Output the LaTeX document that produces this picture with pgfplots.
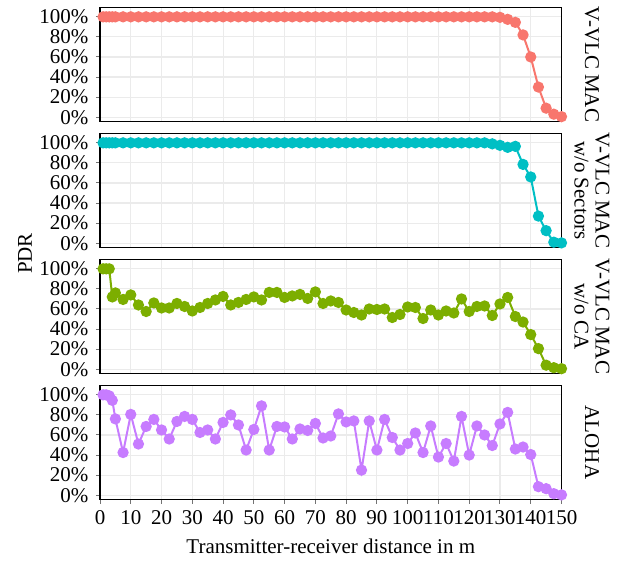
\documentclass[border=0pt]{standalone}
\usepackage{fontspec}
\setmainfont{Liberation Serif}
\usepackage{pgfplots}
\pgfplotsset{compat=1.18}

\definecolor{cRed}{HTML}{F8766D}
\definecolor{cGreen}{HTML}{7CAE00}
\definecolor{cCyan}{HTML}{00BFC4}
\definecolor{cPurple}{HTML}{C77CFF}

\newcommand{\bigf}{\fontsize{21}{21}\selectfont}

\pgfplotsset{
  panel/.style={
    width=461.5pt, height=114pt, scale only axis,
    xmin=0, xmax=150, ymin=-4.3, ymax=109.3,
    xtick={0,10,...,150}, ytick={0,20,...,100},
    yticklabels={0\%,20\%,40\%,60\%,80\%,100\%},
    /pgf/number format/assume math mode=true,
    grid=major, major grid style={draw=black!8, line width=1.1pt},
    axis line style={black, line width=1.1pt},
    tick align=outside, major tick length=4pt,
    tick style={black!55, line width=1pt},
    tick pos=left,
    tick label style={font=\bigf, black},
    yticklabel style={xshift=-4pt},
    xticklabel style={yshift=-3pt},
    anchor=north west,
  },
  upper/.style={xticklabels={}, xtick style={draw=none}},
  ser/.style={color=#1, line width=2pt, mark=*, mark size=4.6pt,
    mark options={solid, fill=#1, draw=#1}},
}

\begin{document}
\begin{tikzpicture}
\useasboundingbox (0,0) rectangle (624pt,-560pt);

% V-VLC MAC
\begin{axis}[panel, upper, at={(100pt,-7.5pt)}]
\addplot[ser=cRed] coordinates {
(1,100) (2,100) (3,100) (4,100) (5,100) (7.5,100) (10,100) (12.5,100) (15,100) (17.5,100)
(20,100) (22.5,100) (25,100) (27.5,100) (30,100) (32.5,100) (35,100) (37.5,100) (40,100)
(42.5,100) (45,100) (47.5,100) (50,100) (52.5,100) (55,100) (57.5,100) (60,100) (62.5,100)
(65,100) (67.5,100) (70,100) (72.5,100) (75,100) (77.5,100) (80,100) (82.5,100) (85,100)
(87.5,100) (90,100) (92.5,100) (95,100) (97.5,100) (100,100) (102.5,100) (105,100) (107.5,100)
(110,100) (112.5,100) (115,100) (117.5,100) (120,100) (122.5,100) (125,100) (127.5,100)
(130,99.5) (132.5,97.5) (135,94.5) (137.5,82) (140,60) (142.5,30) (145,9) (147.5,3) (150,0.5)
};
\end{axis}

% V-VLC MAC w/o Sectors
\begin{axis}[panel, upper, at={(100pt,-133.5pt)}]
\addplot[ser=cCyan] coordinates {
(1,100) (2,100) (3,100) (4,100) (5,100) (7.5,100) (10,100) (12.5,100) (15,100) (17.5,100)
(20,100) (22.5,100) (25,100) (27.5,100) (30,100) (32.5,100) (35,100) (37.5,100) (40,100)
(42.5,100) (45,100) (47.5,100) (50,100) (52.5,100) (55,100) (57.5,100) (60,100) (62.5,100)
(65,100) (67.5,100) (70,100) (72.5,100) (75,100) (77.5,100) (80,100) (82.5,100) (85,100)
(87.5,100) (90,100) (92.5,100) (95,100) (97.5,100) (100,100) (102.5,100) (105,100) (107.5,100)
(110,100) (112.5,100) (115,100) (117.5,100) (120,100) (122.5,100) (125,100) (127.5,99)
(130,97.5) (132.5,95.5) (135,96.5) (137.5,78.5) (140,66) (142.5,27) (145,12.5) (147.5,1) (150,0.3)
};
\end{axis}

% V-VLC MAC w/o CA
\begin{axis}[panel, upper, at={(100pt,-259.5pt)}]
\addplot[ser=cGreen] coordinates {
(1,100) (2,100) (3,100) (4,72) (5,76) (7.5,69.5) (10,74) (12.5,64) (15,57.5) (17.5,66)
(20,61) (22.5,61) (25,65.5) (27.5,62.5) (30,58) (32.5,61.5) (35,65.5) (37.5,69) (40,72.5)
(42.5,64) (45,66.5) (47.5,69.5) (50,72) (52.5,69) (55,76.5) (57.5,76.5) (60,71.5) (62.5,73)
(65,74.5) (67.5,70.5) (70,77) (72.5,65.5) (75,68) (77.5,66.5) (80,59) (82.5,56.5) (85,54)
(87.5,60) (90,59.5) (92.5,60) (95,51.5) (97.5,54.5) (100,62) (102.5,61.5) (105,50.5) (107.5,59)
(110,54) (112.5,58) (115,56) (117.5,70) (120,57.5) (122.5,62.5) (125,63) (127.5,53.5)
(130,65) (132.5,71.5) (135,52.5) (137.5,47) (140,34.5) (142.5,20.5) (145,4) (147.5,1.5) (150,0.5)
};
\end{axis}

% ALOHA
\begin{axis}[panel, at={(100pt,-385.5pt)},
  xlabel={Transmitter-receiver distance in m},
  xlabel style={font=\bigf, yshift=-8pt}]
\addplot[ser=cPurple] coordinates {
(1,100) (2,100) (3,99) (4,94.5) (5,76) (7.5,42.5) (10,80.5) (12.5,51) (15,68.5) (17.5,75.5)
(20,65) (22.5,56) (25,73.5) (27.5,78.5) (30,75.5) (32.5,62.5) (35,65) (37.5,56) (40,72.5)
(42.5,80) (45,70) (47.5,45) (50,65.5) (52.5,89) (55,45) (57.5,68.5) (60,68) (62.5,56)
(65,66) (67.5,64.5) (70,71.5) (72.5,57) (75,59) (77.5,81) (80,73) (82.5,74) (85,25)
(87.5,74) (90,45) (92.5,75.5) (95,57.5) (97.5,45) (100,51.5) (102.5,62) (105,42.5) (107.5,69)
(110,38) (112.5,51.5) (115,34) (117.5,78.5) (120,40) (122.5,69) (125,60) (127.5,49.5)
(130,71) (132.5,82.5) (135,46) (137.5,48) (140,40.5) (142.5,8.5) (145,6.5) (147.5,1.5) (150,0.3)
};
\end{axis}

\node[rotate=90, font=\bigf] at (25pt,-253.5pt) {PDR};
\node[rotate=-90, font=\bigf, align=center] at (592pt,-64.5pt) {V-VLC MAC};
\node[rotate=-90, font=\bigf, align=center] at (592pt,-190.5pt) {V-VLC MAC\\w/o Sectors};
\node[rotate=-90, font=\bigf, align=center] at (592pt,-316.5pt) {V-VLC MAC\\w/o CA};
\node[rotate=-90, font=\bigf, align=center] at (592pt,-442.5pt) {ALOHA};
\end{tikzpicture}
\end{document}
